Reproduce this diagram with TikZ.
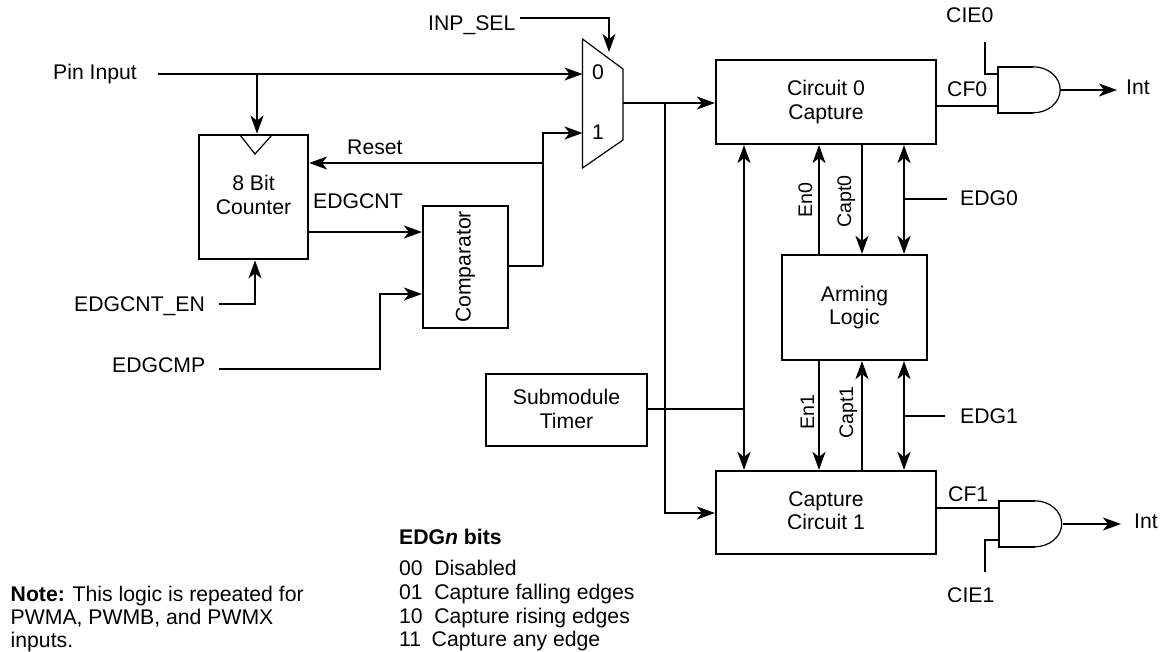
\documentclass[tikz,border=0pt]{standalone}
\usepackage{fontspec}
\setmainfont{Liberation Sans}
\usetikzlibrary{arrows.meta}
\tikzset{
  wire/.style={line width=2pt},
  arr/.style={wire,-{Stealth[length=18pt,width=13pt,inset=5pt]}},
  biarr/.style={wire,{Stealth[length=18pt,width=13pt,inset=5pt]}-{Stealth[length=18pt,width=13pt,inset=5pt]}},
  blockbox/.style={draw,line width=2.2pt,inner sep=0pt,align=center,font=\labelfont},
  lbl/.style={inner sep=0pt,anchor=base west,font=\labelfont},
  vlbl/.style={inner sep=0pt,anchor=base west,rotate=90,font=\fontsize{19.6}{23}\selectfont},
  thinline/.style={line width=1.2pt},
  gatebox/.style={inner sep=0pt,minimum width=35pt,minimum height=46pt},
}
\newcommand{\labelfont}{\fontsize{21.2}{23.7}\selectfont}
\newcommand{\notefont}{\fontsize{21.2}{23.3}\selectfont}
\begin{document}
\begin{tikzpicture}[x=1pt,y=-1pt]
\useasboundingbox (0,0) rectangle (1160,651);
% blocks
\node[blockbox,minimum width=220pt,minimum height=84pt] (cap0) at (826,102) {Circuit 0\\Capture};
\node[blockbox,minimum width=220pt,minimum height=83pt] (cap1) at (826,512.5) {Capture\\Circuit 1\\[-19.7pt]\mbox{}};
\node[blockbox,minimum width=145pt,minimum height=105pt] (arm) at (854.5,307.5) {Arming\\Logic};
\node[blockbox,minimum width=161pt,minimum height=72pt] (timer) at (566.5,410) {Submodule\\Timer\\[-21.7pt]\mbox{}};
\node[blockbox,minimum width=109pt,minimum height=124.5pt] (cnt) at (253.5,197) {8 Bit\\Counter\\[-18.7pt]\mbox{}};
\node[blockbox,rotate=90,minimum width=122pt,minimum height=85pt] (comp) at (465.5,267) {Comparator};
% counter clock mark
\coordinate (clkL) at (240,135);
\coordinate (clkR) at (272,135);
\coordinate (clkB) at (255,154);
\draw[thinline] (clkL) -- (clkB) -- (clkR);
% mux
\coordinate (muxA) at (582.5,39);
\coordinate (muxB) at (623,69);
\coordinate (muxC) at (623,140);
\coordinate (muxD) at (582.5,168);
\draw[thinline] (muxA) -- (muxB) -- (muxC) -- (muxD) -- cycle;
\node[inner sep=0pt,font=\labelfont] (mux0) at (598,72) {0};
\node[inner sep=0pt,font=\labelfont] (mux1) at (598,132.5) {1};
\coordinate (muxIn0) at (582.5,74);
\coordinate (muxIn1) at (582.5,133);
\coordinate (muxSel) at (609,52);
\coordinate (muxOut) at (623,103);
% AND gates
\node[gatebox] (and0) at (1015.5,90) {};
\node[gatebox] (and1) at (1017,524) {};
\draw[wire] (and0.north east) -- (and0.north west) -- (and0.south west) -- (and0.south east);
\draw[thinline] (and0.north east) arc[start angle=90,end angle=-90,x radius=27pt,y radius=23pt];
\draw[wire] (and1.north east) -- (and1.north west) -- (and1.south west) -- (and1.south east);
\draw[thinline] (and1.north east) arc[start angle=90,end angle=-90,x radius=27pt,y radius=23pt];
% labels
\node[lbl] (pin) at (53,79) {Pin Input};
\node[lbl] (inpsel) at (428,30) {INP\_SEL};
\node[lbl] (cie0) at (946,22) {CIE0};
\node[lbl] (cf0) at (947,96) {CF0};
\node[lbl] (int0) at (1126,94) {Int};
\node[lbl] (cf1) at (948,501) {CF1};
\node[lbl] (cie1) at (947,602) {CIE1};
\node[lbl] (int1) at (1134,528) {Int};
\node[lbl] (reset) at (347,154) {Reset};
\node[lbl] (edgcnt) at (313,208) {EDGCNT};
\node[lbl] (edgcnten) at (74,311) {EDGCNT\_EN};
\node[lbl] (edgcmp) at (112,372) {EDGCMP};
\node[lbl] (edg0) at (960,205) {EDG0};
\node[lbl] (edg1) at (960,423) {EDG1};
\node[vlbl] (en0) at (812,218) {En0};
\node[vlbl] (capt0) at (851,228) {Capt0};
\node[vlbl] (en1) at (814,430) {En1};
\node[vlbl] (capt1) at (853,439) {Capt1};
% free wire ends and junctions
\coordinate (pinS) at (158,74);
\coordinate (clkIn) at (257,74);
\coordinate (selS) at (520,18);
\coordinate (cie0S) at (985,42);
\coordinate (cie0J) at (985,74);
\coordinate (cie1S) at (985,572);
\coordinate (cie1J) at (985,540);
\coordinate (out0) at (1060,90);
\coordinate (tip0) at (1117,90);
\coordinate (out1) at (1063,524);
\coordinate (tip1) at (1121,524);
\coordinate (bus) at (665,103);
\coordinate (busB) at (665,513);
\coordinate (tbus) at (744,409);
\coordinate (j1) at (543,133);
\coordinate (j2) at (543,163);
\coordinate (j3) at (543,266);
\coordinate (enS) at (219,304);
\coordinate (enJ) at (255,304);
\coordinate (cmpS) at (219,369);
\coordinate (cmpJ) at (380,369);
\coordinate (cmpK) at (380,294);
\coordinate (xEn) at (819,200);
\coordinate (xCp) at (862,200);
\coordinate (xEd) at (904,199);
\coordinate (edg0E) at (947,199);
\coordinate (xEd1) at (904,416);
\coordinate (edg1E) at (945,416);
% wires
\draw[arr] (pinS) -- (muxIn0);
\draw[arr] (clkIn) -- (clkIn |- cnt.north);
\draw[arr] (selS) -| (muxSel);
\draw[arr] (muxOut) -- (muxOut -| cap0.west);
\draw[arr] (bus) -- (busB) -- (busB -| cap1.west);
\draw[arr] (j3) -- (j1) -- (muxIn1);
\draw[arr] (j2) -- (j2 -| cnt.east);
\draw[wire] (j3 -| comp.south) -- (j3);
\draw[arr] (cnt.east |- 0,232) -- (comp.north |- 0,232);
\draw[arr] (enS) -- (enJ) -- (enJ |- cnt.south);
\draw[arr] (cmpS) -- (cmpJ) -- (cmpK) -- (cmpK -| comp.north);
\draw[wire] (timer.east |- tbus) -- (tbus);
\draw[biarr] (tbus |- cap0.south) -- (tbus |- cap1.north);
\draw[arr] (xEn |- arm.north) -- (xEn |- cap0.south);
\draw[arr] (xCp |- cap0.south) -- (xCp |- arm.north);
\draw[biarr] (xEd |- cap0.south) -- (xEd |- arm.north);
\draw[wire] (xEd) -- (edg0E);
\draw[arr] (xEn |- arm.south) -- (xEn |- cap1.north);
\draw[arr] (xCp |- cap1.north) -- (xCp |- arm.south);
\draw[biarr] (xEd |- arm.south) -- (xEd |- cap1.north);
\draw[wire] (xEd1) -- (edg1E);
\draw[wire] (cap0.east |- 0,106) -- (and0.west |- 0,106);
\draw[wire] (cie0S) -- (cie0J) -- (cie0J -| and0.west);
\draw[arr] (out0) -- (tip0);
\draw[wire] (cap1.east |- 0,508) -- (and1.west |- 0,508);
\draw[wire] (cie1S) -- (cie1J) -- (cie1J -| and1.west);
\draw[arr] (out1) -- (tip1);
% legend and note
\node[inner sep=0pt,anchor=north west,align=left,font=\labelfont] (legend) at (399,528.5) {\textbf{EDG\textit{n} bits}\\[8pt]00\hspace{11.5pt}Disabled\\01\hspace{11.5pt}Capture falling edges\\10\hspace{11.5pt}Capture rising edges\\11\hspace{10.5pt}Capture any edge};
\node[inner sep=0pt,anchor=north west,align=left,font=\notefont] (note) at (10.5,585.5) {\textbf{Note:} This logic is repeated for\\PWMA, PWMB, and PWMX\\inputs.};
\end{tikzpicture}
\end{document}
